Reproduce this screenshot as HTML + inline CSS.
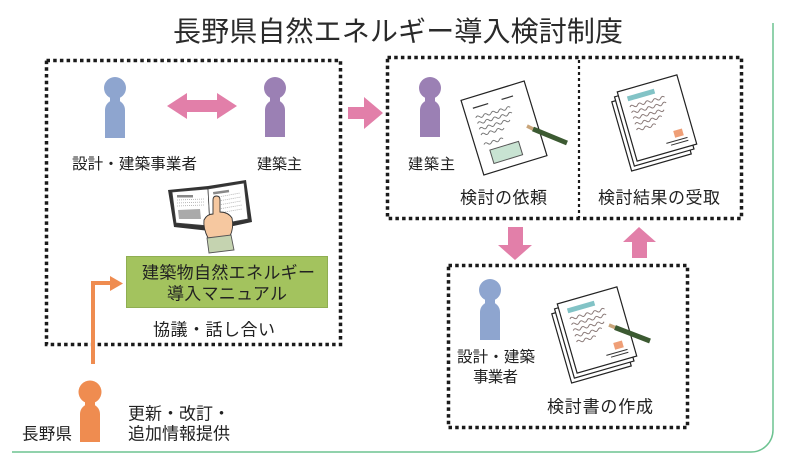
<!DOCTYPE html>
<html><head><meta charset="utf-8">
<style>
html,body{margin:0;padding:0;background:#fff;}
svg{display:block;}
text{font-family:"Liberation Sans","Noto Sans CJK JP",sans-serif;fill:#222;}
</style></head>
<body>
<svg width="791" height="469" viewBox="0 0 791 469" xmlns="http://www.w3.org/2000/svg">
<!-- green frame -->
<path d="M12,452 H751 A22,22 0 0 0 773,430 V23" fill="none" stroke="#6dc391" stroke-width="1.5"/>

<!-- title -->
<text x="173" y="41" font-size="28" textLength="450" lengthAdjust="spacing" style="fill:#2a2a2a">長野県自然エネルギー導入検討制度</text>

<!-- dotted boxes -->
<g fill="none" stroke="#1a1a1a" stroke-width="3.5" stroke-dasharray="3.5 3.2">
<rect x="46.5" y="60.5" width="294" height="284"/>
<rect x="387.5" y="57.5" width="354" height="161"/>
<rect x="448.5" y="265.5" width="239" height="162"/>
</g>
<line x1="579" y1="60" x2="579" y2="218" stroke="#1a1a1a" stroke-width="2.2" stroke-dasharray="3 3"/>

<!-- people -->
<g fill="#8ea5cf">
<circle cx="115" cy="88" r="11"/>
<rect x="110" y="96" width="10" height="8"/>
<path d="M105,138 V110 A10,10 0 0 1 125,110 V138 Z"/>
<circle cx="490" cy="290" r="11"/>
<rect x="485" y="298" width="10" height="8"/>
<path d="M480,340 V312 A10,10 0 0 1 500,312 V340 Z"/>
</g>
<g fill="#9b80b4">
<circle cx="275" cy="88" r="11"/>
<rect x="270" y="96" width="10" height="8"/>
<path d="M265,137 V110 A10,10 0 0 1 285,110 V137 Z"/>
<circle cx="430" cy="88" r="11"/>
<rect x="425" y="96" width="10" height="8"/>
<path d="M420,137 V110 A10,10 0 0 1 440,110 V137 Z"/>
</g>
<g fill="#ef8c50">
<circle cx="90" cy="392" r="11.5"/>
<rect x="85" y="400" width="10" height="8"/>
<path d="M80,442 V414 A10,10 0 0 1 100,414 V442 Z"/>
</g>

<!-- pink arrows -->
<g fill="#e27fa9">
<polygon points="167,106 187,93 187,100 217,100 217,93 237,106 217,119 217,112 187,112 187,119"/>
<polygon points="348,107 364,107 364,97 383,113 364,129 364,119 348,119"/>
<polygon points="508,227 523,227 523,245 532,245 515,260 498,245 508,245"/>
<polygon points="639,227 656,242 647,242 647,258 632,258 632,242 623,242"/>
</g>

<!-- orange arrow -->
<polyline points="93,364 93,283 112,283" fill="none" stroke="#ef8c50" stroke-width="4"/>
<polygon points="110,276 123,283.5 110,291" fill="#ef8c50"/>

<!-- green manual box -->
<rect x="126.5" y="256.5" width="201" height="51" fill="#a3c35e" stroke="#8fae52" stroke-width="1"/>

<!-- book -->
<polygon points="168,190 208,186 246,180 252,222 210,231 174,227" fill="#333"/>
<polygon points="172,192 208,189 210,226 176,223" fill="#fff" stroke="#444" stroke-width="0.8"/>
<polygon points="208,189 244,183 248,219 210,226" fill="#fff" stroke="#444" stroke-width="0.8"/>
<rect x="177" y="195" width="16" height="2.5" fill="#888"/>
<rect x="213" y="192" width="16" height="2.5" fill="#888" transform="rotate(-8 213 192)"/>
<g stroke="#aaa" stroke-width="0.8" stroke-dasharray="1 1">
<line x1="177" y1="200" x2="204" y2="199"/>
<line x1="177" y1="203" x2="204" y2="202"/>
<line x1="177" y1="206" x2="204" y2="205"/>
<line x1="213" y1="198" x2="240" y2="193"/>
<line x1="213" y1="202" x2="241" y2="197"/>
<line x1="213" y1="206" x2="241" y2="201"/>
<line x1="213" y1="210" x2="242" y2="205"/>
<line x1="213" y1="214" x2="242" y2="209"/>
</g>
<polygon points="178,210 200,209 201,219 179,219" fill="#aaa"/>
<!-- hand -->
<path d="M213,214 V200 Q213,196 216.5,196 Q220,196 220,200 V212 Q228,212 232,218 Q234,228 230,236 L208,238 Q203,228 204,220 Q207,214 213,214 Z" fill="#f6c8a0" stroke="#333" stroke-width="0.9"/>
<polygon points="207,238 231,235 234,250 209,253" fill="#c5d3b0" stroke="#555" stroke-width="0.9"/>

<!-- doc 1: request -->
<g transform="translate(504,128) rotate(-17)">
<rect x="-33" y="-39" width="66" height="78" fill="#fff" stroke="#222" stroke-width="1.2"/>
<line x1="-24" y1="-28" x2="-8" y2="-28" stroke="#333" stroke-width="1.2"/>
<line x1="6" y1="-28" x2="18" y2="-28" stroke="#333" stroke-width="1.2"/>
<g fill="none" stroke="#777" stroke-width="1">
<path d="M-24,-18 q2,-2.5 4,0 t4,0 t4,0 t4,0 t4,0 t4,0 t4,0 t4,0 t4,0"/>
<path d="M-24,-12 q2,-2.5 4,0 t4,0 t4,0 t4,0 t4,0 t4,0 t4,0 t4,0 t4,0"/>
<path d="M-24,-6 q2,-2.5 4,0 t4,0 t4,0 t4,0 t4,0 t4,0 t4,0 t4,0"/>
<path d="M-24,0 q2,-2.5 4,0 t4,0 t4,0 t4,0 t4,0 t4,0"/>
<path d="M-24,10 q2,-2.5 4,0 t4,0 t4,0 t4,0 t4,0"/>
</g>
<rect x="-20" y="17" width="30" height="14" fill="#c8e3d2" stroke="#555" stroke-width="1"/>
</g>
<line x1="527" y1="126" x2="533" y2="129" stroke="#c9a57a" stroke-width="3.5"/>
<line x1="533" y1="129" x2="567" y2="143" stroke="#3c5a32" stroke-width="5"/>

<!-- doc 2: result stack -->
<g transform="translate(657,118) rotate(-16)">
<rect x="-39" y="-28" width="62" height="72" fill="#fff" stroke="#222" stroke-width="1.2"/>
<rect x="-35" y="-32" width="62" height="72" fill="#fff" stroke="#222" stroke-width="1.2"/>
<rect x="-31" y="-36" width="62" height="72" fill="#fff" stroke="#222" stroke-width="1.2"/>
<rect x="-23" y="-29" width="28" height="5" fill="#82c3c6"/>
<g fill="none" stroke="#8a7a78" stroke-width="1">
<path d="M-23,-18 q2,-2.5 4,0 t4,0 t4,0 t4,0 t4,0 t4,0 t4,0 t4,0 t4,0"/>
<path d="M-23,-12 q2,-2.5 4,0 t4,0 t4,0 t4,0 t4,0 t4,0 t4,0 t4,0 t4,0"/>
<path d="M-23,-6 q2,-2.5 4,0 t4,0 t4,0 t4,0 t4,0 t4,0 t4,0 t4,0"/>
<path d="M-23,0 q2,-2.5 4,0 t4,0 t4,0 t4,0 t4,0 t4,0 t4,0"/>
<path d="M-23,6 q2,-2.5 4,0 t4,0 t4,0 t4,0 t4,0"/>
</g>
<rect x="12" y="17" width="9" height="7" fill="#ef9f77"/>
<line x1="2" y1="27" x2="24" y2="27" stroke="#333" stroke-width="1"/>
<line x1="6" y1="30" x2="24" y2="30" stroke="#333" stroke-width="1"/>
</g>

<!-- doc 3: create stack -->
<g transform="translate(597,330) rotate(-16)">
<rect x="-39" y="-28" width="62" height="72" fill="#fff" stroke="#222" stroke-width="1.2"/>
<rect x="-35" y="-32" width="62" height="72" fill="#fff" stroke="#222" stroke-width="1.2"/>
<rect x="-31" y="-36" width="62" height="72" fill="#fff" stroke="#222" stroke-width="1.2"/>
<rect x="-23" y="-29" width="28" height="5" fill="#82c3c6"/>
<g fill="none" stroke="#8a7a78" stroke-width="1">
<path d="M-23,-18 q2,-2.5 4,0 t4,0 t4,0 t4,0 t4,0 t4,0 t4,0 t4,0 t4,0"/>
<path d="M-23,-12 q2,-2.5 4,0 t4,0 t4,0 t4,0 t4,0 t4,0 t4,0 t4,0 t4,0"/>
<path d="M-23,-6 q2,-2.5 4,0 t4,0 t4,0 t4,0 t4,0 t4,0 t4,0 t4,0"/>
<path d="M-23,0 q2,-2.5 4,0 t4,0 t4,0 t4,0 t4,0 t4,0 t4,0"/>
<path d="M-23,6 q2,-2.5 4,0 t4,0 t4,0 t4,0 t4,0"/>
</g>
<rect x="12" y="17" width="9" height="7" fill="#ef9f77"/>
<line x1="2" y1="27" x2="24" y2="27" stroke="#333" stroke-width="1"/>
<line x1="6" y1="30" x2="24" y2="30" stroke="#333" stroke-width="1"/>
</g>
<line x1="609" y1="325" x2="615" y2="327.5" stroke="#c9a57a" stroke-width="3.5"/>
<line x1="615" y1="327.5" x2="650" y2="341" stroke="#3c5a32" stroke-width="5"/>

<!-- labels -->
<text x="72" y="169" font-size="15.5" textLength="125" lengthAdjust="spacing">設計・建築事業者</text>
<text x="257" y="169" font-size="15" textLength="45" lengthAdjust="spacing">建築主</text>
<text x="408" y="169" font-size="15" textLength="47" lengthAdjust="spacing">建築主</text>
<text x="460" y="203.5" font-size="17" textLength="87" lengthAdjust="spacing">検討の依頼</text>
<text x="598" y="203.5" font-size="17" textLength="122" lengthAdjust="spacing">検討結果の受取</text>
<text x="142" y="278.5" font-size="17" textLength="173" lengthAdjust="spacing">建築物自然エネルギー</text>
<text x="167" y="299.5" font-size="17" textLength="120" lengthAdjust="spacing">導入マニュアル</text>
<text x="153" y="335.5" font-size="17" textLength="122" lengthAdjust="spacing">協議・話し合い</text>
<text x="457" y="362" font-size="15.5" textLength="78" lengthAdjust="spacing">設計・建築</text>
<text x="473" y="382" font-size="15.5" textLength="45" lengthAdjust="spacing">事業者</text>
<text x="547" y="412.5" font-size="17" textLength="106" lengthAdjust="spacing">検討書の作成</text>
<text x="22" y="439.5" font-size="16.5" textLength="50" lengthAdjust="spacing">長野県</text>
<text x="128" y="419.5" font-size="17" textLength="102" lengthAdjust="spacing">更新・改訂・</text>
<text x="128" y="439.5" font-size="17" textLength="102" lengthAdjust="spacing">追加情報提供</text>
</svg>
</body></html>
